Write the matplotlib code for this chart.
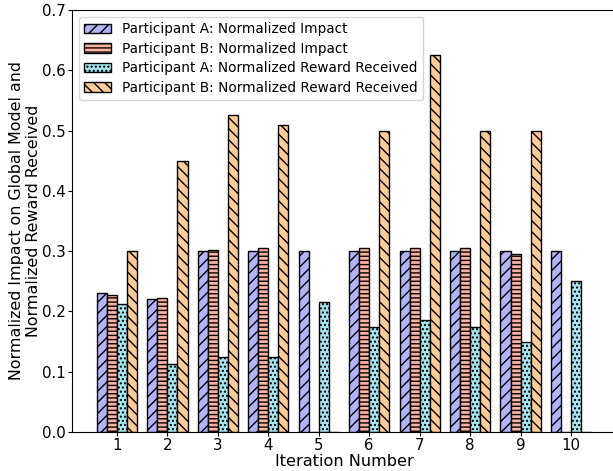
import numpy as np
import matplotlib
matplotlib.use('Agg')
import matplotlib.pyplot as plt

iterations = [1, 2, 3, 4, 5, 6, 7, 8, 9, 10]
impact_a = [0.23, 0.22, 0.30, 0.30, 0.30, 0.30, 0.30, 0.30, 0.30, 0.30]
impact_b = [0.228, 0.223, 0.302, 0.305, 0.0, 0.305, 0.305, 0.305, 0.295, 0.0]
reward_a = [0.213, 0.112, 0.125, 0.125, 0.215, 0.175, 0.185, 0.175, 0.15, 0.25]
reward_b = [0.30, 0.45, 0.525, 0.51, 0.0, 0.50, 0.625, 0.50, 0.50, 0.0]

labels = ['Participant A: Normalized Impact',
          'Participant B: Normalized Impact',
          'Participant A: Normalized Reward Received',
          'Participant B: Normalized Reward Received']


def show_chart():
    fig = plt.figure(figsize=(6.13, 4.71), dpi=100)
    ax = fig.add_axes([72 / 613, 39 / 471, 544 / 613, 422 / 471])

    x = np.array(iterations)
    w = 0.2
    series = [impact_a, impact_b, reward_a, reward_b]
    colors = ['#b3b3fa', '#ffb3a0', '#a8e4ee', '#ffcc99']
    hatches = ['///', '----', '....', '\\\\\\']
    for i, vals in enumerate(series):
        ax.bar(x + (i - 1.5) * w, vals, w, color=colors[i], edgecolor='black',
               linewidth=1.0, hatch=hatches[i], label=labels[i])

    ax.set_xticks(iterations)
    ax.set_ylim(0, 0.7)
    ax.tick_params(labelsize=10.8, length=2.6, pad=1.6)
    ax.set_xlabel('Iteration Number', fontsize=11.6, labelpad=1)
    ax.set_ylabel('Normalized Impact on Global Model and\nNormalized Reward Received',
                  fontsize=11.4, labelpad=1)
    ax.legend(loc='upper left', fontsize=9.8, labelspacing=0.4)
    fig.savefig('out.png', dpi=100)


if __name__ == '__main__':
    show_chart()
